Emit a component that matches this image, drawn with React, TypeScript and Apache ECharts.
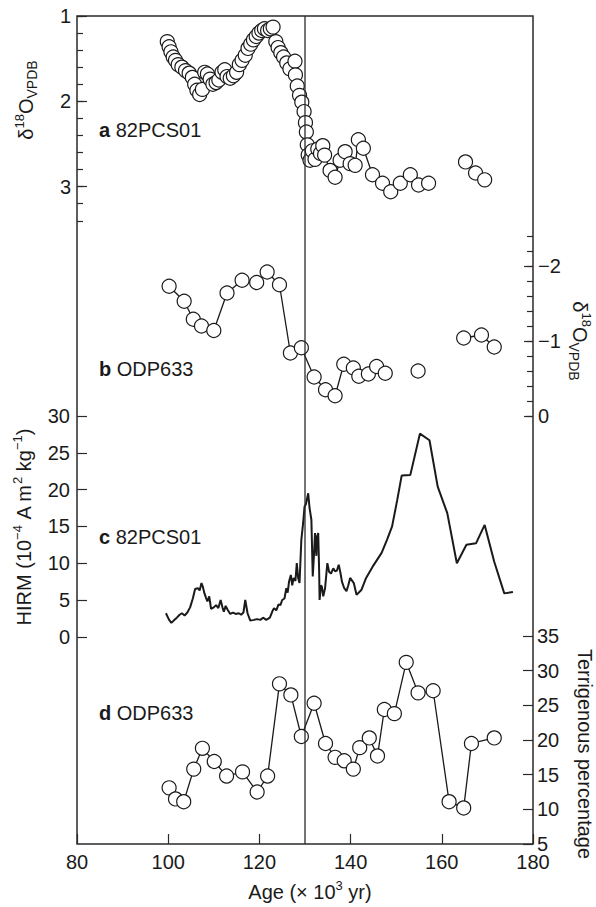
import React, { useEffect, useRef } from 'react';
import * as echarts from 'echarts';

// ---------- data ----------
// a: 82PCS01 planktonic d18O (VPDB)
const aAge = [99.8, 100.2, 100.6, 101.1, 101.6, 102.2, 103.0, 103.8, 104.6, 105.3, 105.8, 106.3, 106.9, 107.5, 108.0, 108.6, 109.2, 109.8, 110.5, 111.1, 111.8, 112.4, 112.9, 113.6, 114.3, 115.0, 115.6, 116.2, 116.9, 117.5, 118.1, 118.7, 119.3, 119.9, 120.5, 121.1, 121.8, 122.4, 123.0, 123.6, 124.1, 124.7, 125.3, 126.0, 126.7, 127.8, 127.9, 128.3, 128.8, 129.3, 129.8, 130.1, 130.3, 130.5, 130.7, 131.1, 131.6, 132.2, 132.8, 133.4, 133.9, 134.3, 135.5, 136.6, 137.7, 138.8, 139.9, 141.0, 141.7, 142.8, 144.8, 147.0, 148.8, 150.9, 153.1, 154.9, 157.1, 161.0, 165.2, 167.4, 169.4];
const aD18O = [1.30, 1.36, 1.42, 1.48, 1.52, 1.57, 1.60, 1.64, 1.67, 1.72, 1.80, 1.87, 1.92, 1.86, 1.66, 1.68, 1.74, 1.80, 1.78, 1.75, 1.66, 1.63, 1.71, 1.73, 1.70, 1.66, 1.57, 1.52, 1.46, 1.38, 1.33, 1.28, 1.24, 1.20, 1.17, 1.15, 1.17, 1.15, 1.13, 1.30, 1.37, 1.43, 1.48, 1.55, 1.62, 1.53, 1.69, 1.82, 1.93, 2.01, 2.12, 2.25, 2.36, 2.51, 2.63, 2.69, 2.58, 2.68, 2.56, 2.61, 2.52, 2.63, 2.81, 2.89, 2.69, 2.59, 2.73, 2.75, 2.45, 2.55, 2.86, 2.96, 3.06, 2.96, 2.86, 2.98, 2.96, null, 2.71, 2.84, 2.92];

// b: ODP633 d18O (VPDB)
const bAge = [100.2, 103.5, 105.5, 107.3, 110.0, 112.9, 116.2, 119.4, 121.7, 124.4, 126.8, 129.2, 132.0, 134.5, 136.6, 138.5, 140.6, 141.8, 143.9, 145.7, 147.6, 151.0, 154.8, 160.0, 164.8, 168.7, 171.5];
const bD18O = [-1.73, -1.53, -1.29, -1.20, -1.14, -1.64, -1.81, -1.78, -1.92, -1.75, -0.84, -0.91, -0.52, -0.35, -0.27, -0.69, -0.64, -0.53, -0.56, -0.66, -0.57, null, -0.60, null, -1.04, -1.08, -0.92];

// c: 82PCS01 HIRM (1e-4 A m2 kg-1)
const cAge = [99.5, 100.2, 100.7, 101.2, 101.9, 102.5, 103.0, 103.6, 104.2, 104.8, 105.4, 105.9, 106.5, 106.9, 107.3, 107.6, 107.9, 108.3, 108.6, 109.0, 109.4, 110.0, 110.5, 111.0, 111.5, 111.9, 112.2, 112.6, 113.0, 113.6, 114.2, 114.8, 115.5, 116.0, 116.5, 116.9, 117.4, 118.0, 118.8, 119.5, 120.2, 120.8, 121.5, 122.3, 122.8, 123.2, 123.7, 124.2, 124.6, 125.0, 125.5, 125.9, 126.2, 126.5, 126.9, 127.2, 127.5, 127.9, 128.2, 128.5, 128.8, 129.2, 129.6, 129.9, 130.2, 130.7, 131.0, 131.4, 131.7, 132.0, 132.2, 132.5, 132.6, 132.9, 133.1, 133.2, 133.5, 133.7, 134.0, 134.4, 134.9, 135.3, 135.7, 136.2, 136.6, 137.0, 137.4, 137.8, 138.1, 138.6, 139.1, 139.5, 139.9, 140.7, 141.3, 142.4, 143.4, 144.8, 146.8, 148.0, 149.1, 150.2, 151.2, 153.1, 155.2, 157.3, 159.1, 161.2, 163.3, 165.4, 167.5, 169.4, 171.5, 173.7, 175.6];
const cHIRM = [3.2, 2.3, 1.9, 2.2, 2.6, 3.0, 3.2, 2.9, 3.3, 4.0, 5.2, 6.5, 6.6, 6.3, 7.3, 6.8, 6.0, 5.3, 4.8, 5.5, 3.8, 4.0, 4.3, 3.9, 5.0, 4.0, 3.4, 4.2, 3.7, 3.1, 3.3, 3.1, 3.2, 3.0, 3.3, 5.0, 3.2, 2.2, 2.3, 2.4, 2.3, 2.6, 2.3, 2.6, 3.4, 3.9, 3.6, 4.4, 4.3, 5.0, 5.2, 6.6, 6.0, 7.5, 8.4, 7.0, 8.0, 7.6, 10.0, 8.0, 7.3, 13.2, 15.5, 17.7, 18.0, 19.5, 17.5, 15.9, 8.2, 11.5, 14.1, 11.0, 13.5, 14.1, 9.0, 5.0, 7.0, 6.8, 5.5, 6.6, 10.0, 8.8, 8.6, 9.3, 8.9, 9.0, 9.8, 8.6, 7.5, 6.6, 6.2, 7.0, 8.0, 7.3, 5.7, 6.4, 8.0, 9.5, 11.4, 13.2, 15.0, 18.5, 21.9, 22.0, 27.6, 26.7, 20.4, 16.8, 10.0, 12.5, 12.7, 15.2, 10.2, 5.9, 6.1];

// d: ODP633 terrigenous percentage
const dAge = [100.2, 101.6, 103.4, 105.6, 107.5, 110.1, 112.8, 116.3, 119.5, 121.8, 124.4, 126.9, 129.2, 132.0, 134.5, 136.6, 138.6, 140.6, 142.0, 144.1, 145.9, 147.4, 149.6, 152.2, 154.8, 158.1, 161.6, 164.8, 166.5, 171.5];
const dTerr = [13.1, 11.5, 11.1, 15.8, 18.8, 16.9, 14.8, 15.4, 12.5, 14.8, 28.1, 26.5, 20.5, 25.3, 19.5, 17.5, 17.0, 15.8, 18.9, 20.3, 17.7, 24.4, 23.8, 31.2, 26.8, 27.1, 11.1, 10.2, 19.5, 20.3];

// axis ticks / labels
const ageTicks = { min: 80, max: 180, interval: 20 };
const aMajor = [1, 2, 3];
const bMajor = [-2, -1, 0];
const boundaryAge = 130;

// ---------- style ----------
const FONT = '"Liberation Sans", Arial, Helvetica, sans-serif';
const INK = '#1a1a1a';
const FS = 20;

function pairs(ages: number[], vals: (number | null)[]) {
  return ages.map((a, i) => [a, vals[i] === null ? '-' : vals[i]]);
}

const tickStyle = { color: '#2a2a2a', width: 1.2 };
const labelStyle = { fontSize: FS, color: INK, fontFamily: FONT };

const richBase = {
  m: { fontSize: FS, fontFamily: FONT, fill: INK, lineHeight: 26 },
  s: { fontSize: 13, fontFamily: FONT, fill: INK, lineHeight: 20, verticalAlign: 'top' },
  u: { fontSize: 14, fontFamily: FONT, fill: INK, lineHeight: 15, verticalAlign: 'bottom' },
};

export default function App() {
  const ref = useRef<HTMLDivElement>(null);

  useEffect(() => {
    document.body.style.margin = '0';
    const chart = echarts.init(ref.current!, undefined, { renderer: 'svg' });
    const L = 77;
    const W = 456;

    const hiddenX = (i: number) => ({
      type: 'value', gridIndex: i, min: ageTicks.min, max: ageTicks.max, show: false,
    });

    const symbolSeries = (xi: number, yi: number, data: any[]) => ({
      type: 'line', xAxisIndex: xi, yAxisIndex: yi, data,
      symbol: 'circle', symbolSize: 14, showAllSymbol: true, clip: false,
      connectNulls: false,
      lineStyle: { color: INK, width: 1.3 },
      itemStyle: { color: '#ffffff', borderColor: INK, borderWidth: 1.2 },
      emphasis: { disabled: true }, silent: true,
    });

    const minus = (v: number) => String(v).replace('-', '\u2212');

    const option: any = {
      animation: false,
      backgroundColor: '#ffffff',
      textStyle: { fontFamily: FONT },
      grid: [
        { left: L, width: W, top: 16, height: 204.8 },
        { left: L, width: W, top: 236, height: 180 },
        { left: L, width: W, top: 416, height: 220.8 },
        { left: L, width: W, top: 636, height: 208 },
        { left: L, width: W, top: 16, height: 828, show: true, borderColor: '#2a2a2a', borderWidth: 1.5, backgroundColor: 'transparent' },
      ],
      xAxis: [
        hiddenX(0), hiddenX(1), hiddenX(2), hiddenX(3),
        {
          type: 'value', gridIndex: 4, min: ageTicks.min, max: ageTicks.max, interval: ageTicks.interval,
          axisLine: { show: false },
          axisTick: { inside: true, length: 10, lineStyle: tickStyle },
          axisLabel: { ...labelStyle, margin: 8 },
          splitLine: { show: false },
        },
      ],
      yAxis: [
        {
          type: 'value', gridIndex: 0, position: 'left', min: 1, max: 3.4, interval: 0.2, inverse: true,
          axisLine: { show: false },
          axisTick: { inside: true, length: 6, lineStyle: tickStyle },
          axisLabel: { ...labelStyle, margin: 6, customValues: aMajor },
          splitLine: { show: false },
        },
        {
          type: 'value', gridIndex: 0, position: 'left', min: 1, max: 3.4, interval: 0.2, inverse: true,
          axisLine: { show: false },
          axisTick: { inside: true, length: 10, lineStyle: tickStyle, customValues: aMajor },
          axisLabel: { show: false },
          splitLine: { show: false },
        },
        {
          type: 'value', gridIndex: 1, position: 'right', min: -2.4, max: 0, interval: 0.2, inverse: true,
          axisLine: { show: false },
          axisTick: { inside: true, length: 6, lineStyle: tickStyle },
          axisLabel: { ...labelStyle, margin: 5, customValues: bMajor, formatter: (v: number) => minus(v) },
          splitLine: { show: false },
        },
        {
          type: 'value', gridIndex: 1, position: 'right', min: -2.4, max: 0, interval: 0.2, inverse: true,
          axisLine: { show: false },
          axisTick: { inside: true, length: 9, lineStyle: tickStyle, customValues: bMajor },
          axisLabel: { show: false },
          splitLine: { show: false },
        },
        {
          type: 'value', gridIndex: 2, position: 'left', min: 0, max: 30, interval: 5,
          axisLine: { show: false },
          axisTick: { inside: true, length: 10, lineStyle: tickStyle },
          axisLabel: { ...labelStyle, margin: 7 },
          splitLine: { show: false },
        },
        {
          type: 'value', gridIndex: 3, position: 'right', min: 5, max: 35, interval: 5,
          axisLine: { show: false },
          axisTick: { inside: true, length: 10, lineStyle: tickStyle },
          axisLabel: { ...labelStyle, margin: 4 },
          splitLine: { show: false },
        },
        { type: 'value', gridIndex: 4, min: 0, max: 1, show: false },
      ],
      series: [
        symbolSeries(0, 0, pairs(aAge, aD18O)),
        symbolSeries(1, 2, pairs(bAge, bD18O)),
        {
          type: 'line', xAxisIndex: 2, yAxisIndex: 4, data: pairs(cAge, cHIRM),
          symbol: 'none', clip: false,
          lineStyle: { color: INK, width: 2 },
          emphasis: { disabled: true }, silent: true,
        },
        symbolSeries(3, 5, pairs(dAge, dTerr)),
        {
          type: 'line', xAxisIndex: 4, yAxisIndex: 6, z: 10,
          data: [[boundaryAge, 0], [boundaryAge, 1]],
          symbol: 'none', lineStyle: { color: '#2a2a2a', width: 1.3 },
          emphasis: { disabled: true }, silent: true,
        },
      ],
      graphic: {
        elements: [
          ...[
            { t: 'a', n: '82PCS01', y: 130 },
            { t: 'b', n: 'ODP633', y: 369 },
            { t: 'c', n: '82PCS01', y: 537 },
            { t: 'd', n: 'ODP633', y: 713 },
          ].map((p) => ({
            type: 'text', x: 99, y: p.y, silent: true,
            style: {
              text: `{b|${p.t}} {m|${p.n}}`,
              rich: {
                b: { fontSize: FS, fontFamily: FONT, fontWeight: 'bold', fill: INK },
                m: { fontSize: FS, fontFamily: FONT, fill: INK },
              },
              fontSize: FS, fontFamily: FONT, fill: INK,
              align: 'left', verticalAlign: 'middle',
            },
          })),
          {
            type: 'text', x: 26, y: 100, rotation: Math.PI / 2, silent: true,
            style: {
              text: '{m|\u03b4}{s|18}{m|O}{u|VPDB}', rich: richBase,
              fontSize: FS, fontFamily: FONT, fill: INK, align: 'center', verticalAlign: 'middle',
            },
          },
          {
            type: 'text', x: 580, y: 341, rotation: -Math.PI / 2, silent: true,
            style: {
              text: '{m|\u03b4}{s|18}{m|O}{u|VPDB}', rich: richBase,
              fontSize: FS, fontFamily: FONT, fill: INK, align: 'center', verticalAlign: 'middle',
            },
          },
          {
            type: 'text', x: 24, y: 527, rotation: Math.PI / 2, silent: true,
            style: {
              text: '{m|HIRM (10}{s|\u22124}{m| A m}{s|2}{m| kg}{s|\u22121}{m|)}', rich: richBase,
              fontSize: FS, fontFamily: FONT, fill: INK, align: 'center', verticalAlign: 'middle',
            },
          },
          {
            type: 'text', x: 585, y: 754, rotation: -Math.PI / 2, silent: true,
            style: {
              text: 'Terrigenous percentage',
              fontSize: FS, fontFamily: FONT, fill: INK, align: 'center', verticalAlign: 'middle',
            },
          },
          {
            type: 'text', x: 310, y: 892, silent: true,
            style: {
              text: '{m|Age (\u00d7 10}{s|3}{m| yr)}', rich: richBase,
              fontSize: FS, fontFamily: FONT, fill: INK, align: 'center', verticalAlign: 'middle',
            },
          },
        ],
      },
    };

    chart.setOption(option);
    return () => chart.dispose();
  }, []);

  return <div ref={ref} style={{ width: 596, height: 907 }} />;
}
